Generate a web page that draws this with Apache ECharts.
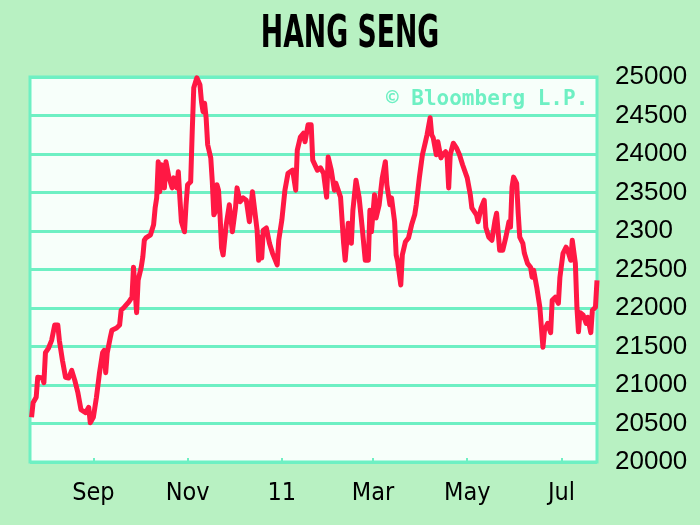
<!DOCTYPE html>
<html>
<head>
<meta charset="utf-8">
<script src="https://cdn.jsdelivr.net/npm/echarts@6/dist/echarts.min.js"></script>
<style>html,body{margin:0;padding:0;background:#b8f1c2;}#c{width:700px;height:525px;}</style>
</head>
<body>
<div id="c"></div>
<script>
// Days since 2010-07-22 and Hang Seng index level
const days = [1,2,4,5,8,9,10,12,14,16,18,19,21,23,25,27,29,31,33,36,38,39,41,43,45,47,48,49,50,52,53,56,58,59,61,64,66,67,68,69,70,72,73,74,75,78,80,81,82,83,84,85,86,87,88,90,92,93,95,96,97,98,100,101,102,104,105,106,108,110,111,112,113,114,115,117,118,119,120,121,122,123,124,125,127,129,131,133,134,136,138,140,142,144,147,148,149,150,151,153,155,157,160,161,163,165,167,170,172,173,175,177,178,180,182,183,186,188,190,192,193,195,197,198,201,203,204,206,208,209,211,213,215,217,219,220,221,223,224,226,228,230,231,233,234,236,237,238,240,241,243,245,247,249,250,252,254,256,257,259,260,261,263,264,266,267,269,270,271,272,274,276,278,280,283,285,286,289,290,292,294,295,297,299,301,302,304,306,308,310,311,312,313,315,316,317,319,320,322,324,325,326,328,330,331,332,333,335,337,338,340,342,343,345,347,348,350,351,353,354,355,356,358,360,361,363,364,366,367];
const closes = [20580,20770,20840,21100,21090,21030,21420,21480,21580,21780,21780,21580,21320,21100,21090,21190,21060,20900,20680,20640,20710,20510,20580,20840,21160,21420,21450,21160,21420,21620,21710,21740,21780,21970,22010,22080,22140,22530,22230,21940,22360,22530,22660,22880,22910,22950,23080,23300,23430,23900,23510,23860,23730,23560,23900,23690,23560,23690,23560,23770,23430,23120,22990,23340,23600,23640,24290,24860,24990,24900,24680,24550,24660,24470,24120,23950,23640,23210,23250,23600,23530,23210,22780,22690,23080,23340,22990,23300,23560,23380,23430,23400,23120,23510,23010,22620,22920,22650,23010,23040,22840,22710,22560,22880,23140,23530,23750,23790,23530,24050,24220,24270,24160,24380,24380,23920,23790,23820,23750,23440,23960,23790,23530,23620,23440,22840,22620,23100,22840,23270,23660,23440,23050,22620,22620,23270,22990,23470,23170,23340,23690,23900,23600,23340,23430,23120,22690,22600,22300,22690,22860,22910,23080,23210,23340,23690,23990,24160,24250,24470,24250,24210,23990,24160,23950,23990,24030,23950,23560,23990,24140,24080,23990,23860,23690,23470,23300,23210,23120,23300,23400,23050,22920,22880,23140,23230,22750,22750,22920,23120,23050,23570,23700,23620,23230,22920,22840,22710,22580,22530,22400,22490,22270,22010,21750,21490,21710,21800,21680,22100,22140,22060,22400,22710,22790,22750,22620,22880,22580,22010,21690,21940,21910,21800,21880,21680,21970,22010,22360];

const xTickDays = [41, 102, 163, 222, 283, 344];
const xTickLabels = ['Sep', 'Nov', '11', 'Mar', 'May', 'Jul'];
const yTickValues = [20000, 20500, 21000, 21500, 22000, 22500, 23000, 23500, 24000, 24500, 25000];
const yTickLabels = ['20000', '20500', '21000', '21500', '22000', '22500', '2300', '23500', '24000', '24500', '25000'];

const teal = '#6ef0c3';
const condensed = "'DejaVu Sans Condensed', 'DejaVu Sans', sans-serif";
const chart = echarts.init(document.getElementById('c'));
chart.setOption({
  backgroundColor: '#b8f1c2',
  animation: false,
  graphic: [{
    type: 'text',
    x: 350,
    y: 35,
    scaleX: 0.66,
    z: 10,
    style: {
      text: 'HANG SENG', fill: '#000',
      font: "bold 45px 'DejaVu Sans Condensed', 'DejaVu Sans', sans-serif",
      align: 'center', verticalAlign: 'middle'
    }
  }, {
    type: 'text',
    x: 386,
    y: 89,
    z: 10,
    style: { text: '\u00A9 Bloomberg L.P.', fill: teal, font: "bold 21px 'DejaVu Sans Mono', monospace" }
  }],
  grid: {
    left: 30, right: 103, top: 77, bottom: 63,
    show: true, backgroundColor: '#f7fffa', borderColor: teal, borderWidth: 3
  },
  xAxis: {
    type: 'value', min: 0, max: 367,
    axisLine: { show: false },
    splitLine: { show: false },
    axisTick: { show: true, inside: true, length: 4, customValues: xTickDays, lineStyle: { color: teal, width: 2 } },
    axisLabel: {
      customValues: xTickDays,
      margin: 19,
      formatter: v => xTickLabels[xTickDays.indexOf(v)],
      fontFamily: condensed,
      fontSize: 25, color: '#000'
    }
  },
  yAxis: {
    type: 'value', position: 'right', min: 20000, max: 25000, interval: 500,
    axisLine: { show: false }, axisTick: { show: false },
    splitLine: { show: true, lineStyle: { color: teal, width: 3 } },
    axisLabel: {
      margin: 18,
      formatter: v => yTickLabels[yTickValues.indexOf(v)],
      fontFamily: "'Liberation Sans', sans-serif",
      fontSize: 26, color: '#000'
    }
  },
  series: [{
    type: 'line',
    data: days.map((d, i) => [d, closes[i]]),
    showSymbol: false,
    smooth: false,
    lineStyle: { color: '#ff1844', width: 5, join: 'round' },
    z: 5
  }]
});
</script>
</body>
</html>
